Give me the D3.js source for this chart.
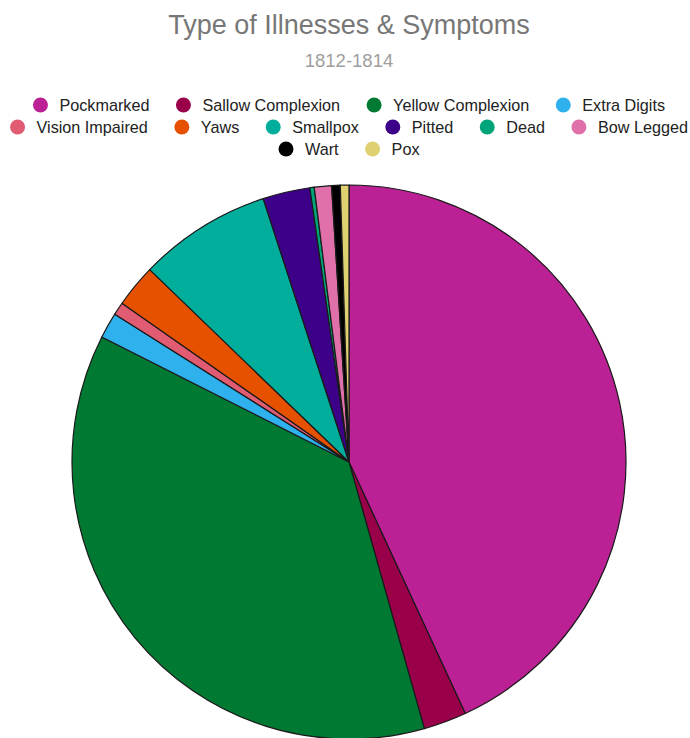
<!DOCTYPE html>
<html>
<head>
<meta charset="utf-8">
<script src="https://cdn.jsdelivr.net/npm/d3@7"></script>
<style>
  html, body { margin: 0; padding: 0; background: #fff; }
  svg { display: block; }
</style>
</head>
<body>
<svg id="chart" width="690" height="738"></svg>
<script>
// Illness / symptom categories recorded 1812-1814 (counts)
const categories = ["Pockmarked", "Sallow Complexion", "Yellow Complexion", "Extra Digits",
  "Vision Impaired", "Yaws", "Smallpox", "Pitted", "Dead", "Bow Legged", "Wart", "Pox"];
const counts = [172, 10, 147, 6, 3, 10, 31, 11, 1, 4, 2, 2];
const colors = ["#bb2194", "#990049", "#007a33", "#2fb1ee", "#e15b73", "#e65100",
  "#00ae9b", "#3d0088", "#00a47a", "#e070aa", "#000000", "#dfd072"];

const title = "Type of Illnesses & Symptoms";
const subtitle = "1812-1814";

const svg = d3.select("#chart");
const font = "'Liberation Sans', Arial, sans-serif";

// Titles
svg.append("text")
  .attr("x", 349).attr("y", 34)
  .attr("text-anchor", "middle")
  .attr("font-family", font).attr("font-size", 27)
  .attr("fill", "#777")
  .text(title);

svg.append("text")
  .attr("x", 349).attr("y", 67)
  .attr("text-anchor", "middle")
  .attr("font-family", font).attr("font-size", 18.5)
  .attr("fill", "#9e9e9e")
  .text(subtitle);

// Legend: dots + labels in three centered rows
const rowStarts = [0, 4, 10];           // first item index of each row
const legendFont = 16.2, dotR = 7.5, dotToText = 19, itemGap = 34, rowH = 22;
const legend = svg.append("g");
const items = categories.map((name, i) => {
  const g = legend.append("g");
  g.append("circle").attr("r", dotR).attr("fill", colors[i]);
  const t = g.append("text")
    .attr("x", dotToText).attr("dy", "0.36em")
    .attr("font-family", font).attr("font-size", legendFont)
    .attr("fill", "#222")
    .text(name);
  return { g, len: dotToText + t.node().getComputedTextLength() };
});

rowStarts.forEach((start, r) => {
  const end = r + 1 < rowStarts.length ? rowStarts[r + 1] : items.length;
  const row = items.slice(start, end);
  // extent: left edge of first dot to end of last label
  const w = dotR + d3.sum(row, d => d.len) + itemGap * (row.length - 1);
  let x = 349 - w / 2 + dotR;
  const y = 105 + r * rowH;
  row.forEach(it => {
    it.g.attr("transform", `translate(${x},${y})`);
    x += it.len + itemGap;
  });
});

// Pie
const cx = 349, cy = 462, radius = 277;
const pie = d3.pie().sort(null).value(d => d)(counts);
const arc = d3.arc().innerRadius(0).outerRadius(radius);

svg.append("g")
  .attr("transform", `translate(${cx},${cy})`)
  .selectAll("path")
  .data(pie)
  .join("path")
  .attr("d", arc)
  .attr("fill", (d, i) => colors[i])
  .attr("stroke", "#1a1a1a")
  .attr("stroke-width", 1.2)
  .attr("stroke-linejoin", "round");
</script>
</body>
</html>
